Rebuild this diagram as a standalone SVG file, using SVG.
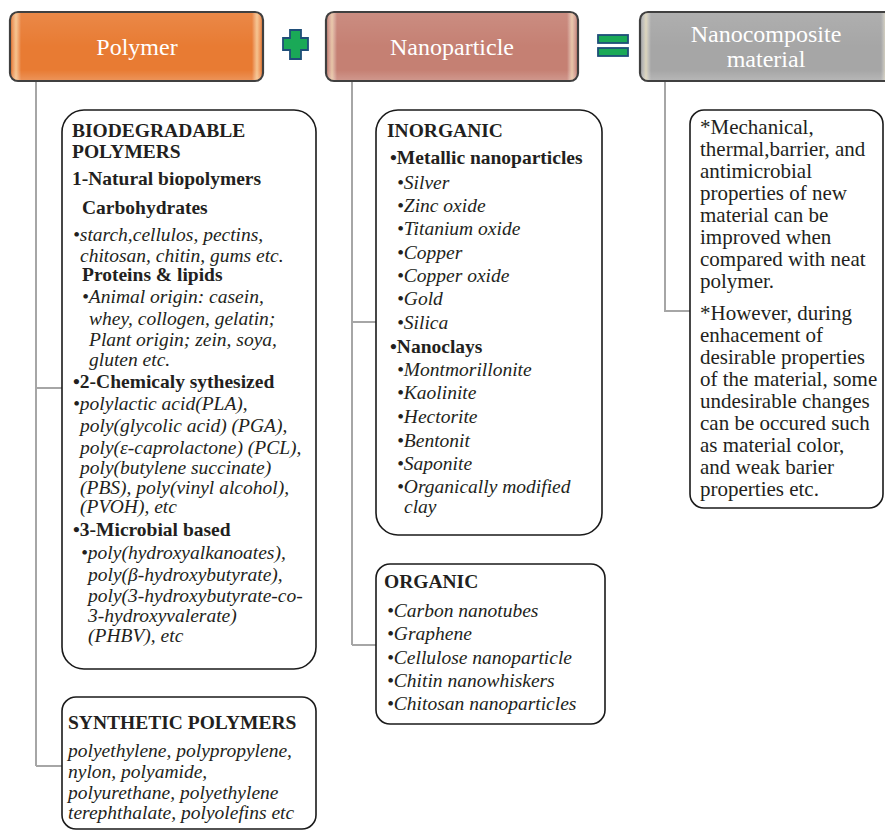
<svg xmlns="http://www.w3.org/2000/svg" width="885" height="831" viewBox="0 0 885 831">
<defs>
<linearGradient id="gloss" x1="0" y1="0" x2="1" y2="0">
<stop offset="0" stop-color="#fff" stop-opacity="0"/>
<stop offset="0.02" stop-color="#fff3c8" stop-opacity="0.6"/>
<stop offset="0.04" stop-color="#fff" stop-opacity="0"/>
<stop offset="0.96" stop-color="#fff" stop-opacity="0"/>
<stop offset="0.98" stop-color="#fff3c8" stop-opacity="0.6"/>
<stop offset="1" stop-color="#fff" stop-opacity="0"/>
</linearGradient>
<linearGradient id="shade" x1="0" y1="0" x2="0" y2="1">
<stop offset="0" stop-color="#fff" stop-opacity="0.1"/>
<stop offset="0.5" stop-color="#fff" stop-opacity="0"/>
<stop offset="0.85" stop-color="#fff" stop-opacity="0"/>
<stop offset="1" stop-color="#fff" stop-opacity="0.18"/>
</linearGradient>
</defs>
<style>
.hdr{stroke:#404040;stroke-width:2.2}
.hl{fill:url(#gloss)}
.sh{fill:url(#shade)}
.ht{font-family:"Liberation Serif",serif;font-size:24px;fill:#fff;text-anchor:middle}
.box{fill:#fff;stroke:#1a1a1a;stroke-width:1.6}
.b{font-family:"Liberation Serif",serif;font-size:19.5px;font-weight:bold;fill:#231f20}
.i{font-family:"Liberation Serif",serif;font-size:19.5px;font-style:italic;fill:#231f20}
.r{font-family:"Liberation Serif",serif;font-size:21px;fill:#231f20}
.con{fill:none;stroke:#a6a6a6;stroke-width:2}
.sym{fill:#1aa957;stroke:#1f4e79;stroke-width:1.8}
</style>
<rect width="885" height="831" fill="#fff"/>

<g id="connectors">
<path class="con" d="M36 81 V766 M36 388 H62 M36 766 H62"/>
<path class="con" d="M352 81 V645 M352 322 H376 M352 645 H376"/>
<path class="con" d="M665 81 V311 H690"/>
</g>

<g id="polymer">
<rect class="hdr" x="10" y="12" width="253" height="69" rx="8" fill="#e87b33"/>
<rect class="sh" x="11" y="13" width="251" height="67" rx="7"/>
<rect class="hl" x="11" y="13" width="251" height="67" rx="7"/>
<text class="ht" x="137" y="55">Polymer</text>
</g>

<g id="plus">
<path class="sym" d="M290 30 H301 V38 H308 V50 H301 V59 H290 V50 H283 V38 H290 Z"/>
</g>

<g id="nanoparticle">
<rect class="hdr" x="326" y="12" width="252" height="69" rx="8" fill="#c58073"/>
<rect class="sh" x="327" y="13" width="250" height="67" rx="7"/>
<rect class="hl" x="327" y="13" width="250" height="67" rx="7"/>
<text class="ht" x="452" y="55">Nanoparticle</text>
</g>

<g id="equals">
<rect class="sym" x="598" y="35" width="30" height="8"/>
<rect class="sym" x="598" y="48" width="30" height="8"/>
</g>

<g id="nanocomposite">
<rect class="hdr" x="640" y="12" width="252" height="69" rx="8" fill="#a6a6a6"/>
<rect class="sh" x="641" y="13" width="250" height="67" rx="7"/>
<rect class="hl" x="641" y="13" width="250" height="67" rx="7"/>
<text class="ht" x="766" y="42">Nanocomposite</text>
<text class="ht" x="766" y="67">material</text>
</g>

<g id="biodegradable">
<rect class="box" x="62" y="110" width="254" height="559" rx="22"/>
<text class="b" x="72" y="137">BIODEGRADABLE</text>
<text class="b" x="72" y="158">POLYMERS</text>
<text class="b" x="72" y="185">1-Natural biopolymers</text>
<text class="b" x="82" y="214">Carbohydrates</text>
<text class="i" x="73" y="241">•starch,cellulos, pectins,</text>
<text class="i" x="80" y="262">chitosan, chitin, gums etc.</text>
<text class="b" x="82" y="281">Proteins &amp; lipids</text>
<text class="i" x="82" y="303">•Animal origin: casein,</text>
<text class="i" x="89" y="325">whey, collogen, gelatin;</text>
<text class="i" x="89" y="346">Plant origin; zein, soya,</text>
<text class="i" x="89" y="366">gluten etc.</text>
<text class="b" x="73" y="388">•2-Chemicaly sythesized</text>
<text class="i" x="73" y="410">•polylactic acid(PLA),</text>
<text class="i" x="80" y="432">poly(glycolic acid) (PGA),</text>
<text class="i" x="80" y="454">poly(ε-caprolactone) (PCL),</text>
<text class="i" x="80" y="474">poly(butylene succinate)</text>
<text class="i" x="80" y="494">(PBS), poly(vinyl alcohol),</text>
<text class="i" x="80" y="513">(PVOH), etc</text>
<text class="b" x="73" y="536">•3-Microbial based</text>
<text class="i" x="81" y="559">•poly(hydroxyalkanoates),</text>
<text class="i" x="88" y="581">poly(β-hydroxybutyrate),</text>
<text class="i" x="88" y="602">poly(3-hydroxybutyrate-co-</text>
<text class="i" x="88" y="622">3-hydroxyvalerate)</text>
<text class="i" x="88" y="642">(PHBV), etc</text>
</g>

<g id="synthetic">
<rect class="box" x="62" y="697" width="254" height="132" rx="14"/>
<text class="b" x="68" y="729">SYNTHETIC POLYMERS</text>
<text class="i" x="68" y="757">polyethylene, polypropylene,</text>
<text class="i" x="68" y="778">nylon, polyamide,</text>
<text class="i" x="68" y="799">polyurethane, polyethylene</text>
<text class="i" x="68" y="819">terephthalate, polyolefins etc</text>
</g>

<g id="inorganic">
<rect class="box" x="376" y="110" width="226" height="425" rx="22"/>
<text class="b" x="387" y="137">INORGANIC</text>
<text class="b" x="390" y="164">•Metallic nanoparticles</text>
<text class="i" x="397" y="189">•Silver</text>
<text class="i" x="397" y="212">•Zinc oxide</text>
<text class="i" x="397" y="235">•Titanium oxide</text>
<text class="i" x="397" y="259">•Copper</text>
<text class="i" x="397" y="282">•Copper oxide</text>
<text class="i" x="397" y="305">•Gold</text>
<text class="i" x="397" y="329">•Silica</text>
<text class="b" x="390" y="353">•Nanoclays</text>
<text class="i" x="397" y="376">•Montmorillonite</text>
<text class="i" x="397" y="399">•Kaolinite</text>
<text class="i" x="397" y="423">•Hectorite</text>
<text class="i" x="397" y="447">•Bentonit</text>
<text class="i" x="397" y="470">•Saponite</text>
<text class="i" x="397" y="493">•Organically modified</text>
<text class="i" x="404" y="513">clay</text>
</g>

<g id="organic">
<rect class="box" x="376" y="564" width="229" height="160" rx="14"/>
<text class="b" x="384" y="588">ORGANIC</text>
<text class="i" x="387" y="617">•Carbon nanotubes</text>
<text class="i" x="387" y="640">•Graphene</text>
<text class="i" x="387" y="664">•Cellulose nanoparticle</text>
<text class="i" x="387" y="687">•Chitin nanowhiskers</text>
<text class="i" x="387" y="710">•Chitosan nanoparticles</text>
</g>

<g id="properties">
<rect class="box" x="690" y="110" width="193" height="398" rx="14"/>
<text class="r" x="700" y="134">*Mechanical,</text>
<text class="r" x="700" y="156">thermal,barrier, and</text>
<text class="r" x="700" y="178">antimicrobial</text>
<text class="r" x="700" y="200">properties of new</text>
<text class="r" x="700" y="222">material can be</text>
<text class="r" x="700" y="244">improved when</text>
<text class="r" x="700" y="266">compared with neat</text>
<text class="r" x="700" y="288">polymer.</text>
<text class="r" x="700" y="320">*However, during</text>
<text class="r" x="700" y="342">enhacement of</text>
<text class="r" x="700" y="364">desirable properties</text>
<text class="r" x="700" y="386">of the material, some</text>
<text class="r" x="700" y="408">undesirable changes</text>
<text class="r" x="700" y="430">can be occured such</text>
<text class="r" x="700" y="452">as material color,</text>
<text class="r" x="700" y="474">and weak barier</text>
<text class="r" x="700" y="496">properties etc.</text>
</g>
</svg>
